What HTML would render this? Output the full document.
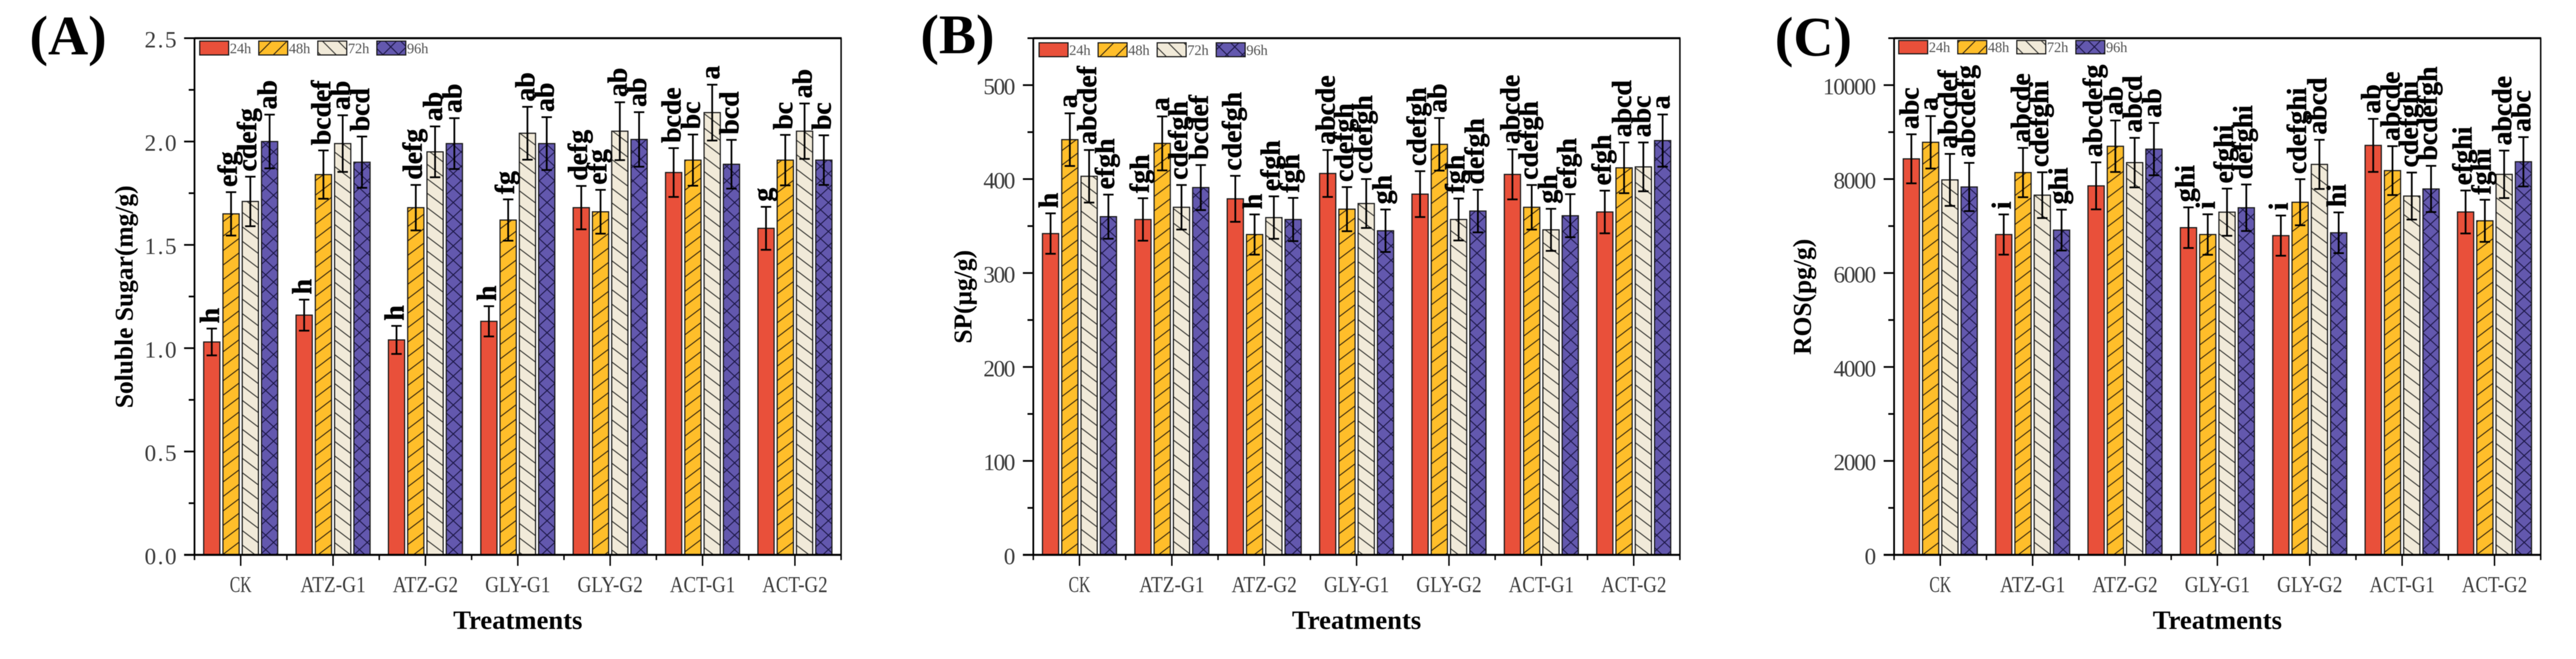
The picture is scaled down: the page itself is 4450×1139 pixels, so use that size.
<!DOCTYPE html>
<html lang="en">
<head>
<meta charset="utf-8">
<title>Soluble sugar, SP and ROS by treatment</title>
<style>
html,body{margin:0;padding:0;background:#fff;width:4450px;height:1139px;overflow:hidden}
svg{display:block;filter:blur(0.6px)}
text{font-family:"Liberation Serif","Noto Serif CJK SC",serif}
</style>
</head>
<body>
<svg id="figure" xmlns="http://www.w3.org/2000/svg" width="4450" height="1139" viewBox="0 0 4450 1139">
<defs>
<pattern id="h48" patternUnits="userSpaceOnUse" width="33" height="25"><path d="M-3.3 27.5L36.3 -2.5M-3.3 2.5L3.3 -2.5M29.7 27.5L36.3 22.5" stroke="#3a2a10" stroke-width="1.7" fill="none"/></pattern>
<pattern id="h72" patternUnits="userSpaceOnUse" width="33" height="25"><path d="M-3.3 -2.5L36.3 27.5M-3.3 22.5L3.3 27.5M29.7 -2.5L36.3 2.5" stroke="#3a3a36" stroke-width="1.7" fill="none"/></pattern>
<pattern id="h96" patternUnits="userSpaceOnUse" width="27" height="25"><path d="M0 0L27 25M0 25L27 0" stroke="#1d1848" stroke-width="1.7" fill="none"/></pattern>
<pattern id="l48" patternUnits="userSpaceOnUse" width="27" height="27"><path d="M-3 30L30 -3M-3 3L3 -3M24 30L30 24" stroke="#3a2a10" stroke-width="1.7" fill="none"/></pattern>
<pattern id="l72" patternUnits="userSpaceOnUse" width="27" height="27"><path d="M-3 -3L30 30M-3 24L3 30M24 -3L30 3" stroke="#3a3a36" stroke-width="1.7" fill="none"/></pattern>
<pattern id="l96" patternUnits="userSpaceOnUse" width="27" height="27"><path d="M0 0L27 27M0 27L27 0" stroke="#1d1848" stroke-width="1.7" fill="none"/></pattern>
</defs>
<rect x="0" y="0" width="4450" height="1139" fill="#fff"/>
</svg>
<script>
const categories = ['CK','ATZ-G1','ATZ-G2','GLY-G1','GLY-G2','ACT-G1','ACT-G2'];
const seriesNames = ['24h','48h','72h','96h'];

const sugarTicks = ['0.0','0.5','1.0','1.5','2.0','2.5'];
const sugar24h = [1.03,1.16,1.04,1.13,1.68,1.85,1.58];
const sugar48h = [1.65,1.84,1.68,1.62,1.66,1.91,1.91];
const sugar72h = [1.71,1.99,1.95,2.04,2.05,2.14,2.05];
const sugar96h = [2.00,1.90,1.99,1.99,2.01,1.89,1.91];
const sugarErr24h = [0.065,0.075,0.068,0.073,0.105,0.118,0.104];
const sugarErr48h = [0.105,0.117,0.110,0.100,0.106,0.124,0.122];
const sugarErr72h = [0.120,0.137,0.123,0.128,0.140,0.135,0.134];
const sugarErr96h = [0.130,0.124,0.123,0.128,0.132,0.118,0.120];
const sugarLetters24h = ['h','h','h','h','defg','bcde','g'];
const sugarLetters48h = ['efg','bcdef','defg','fg','efg','bc','bc'];
const sugarLetters72h = ['cdefg','ab','ab','ab','ab','a','ab'];
const sugarLetters96h = ['ab','bcd','ab','ab','ab','bcd','bc'];

const spTicks = ['0','100','200','300','400','500'];
const sp24h = [342,357,379,406,384,405,365];
const sp48h = [442,438,341,368,437,370,412];
const sp72h = [403,370,359,374,357,346,413];
const sp96h = [360,391,357,345,366,361,441];
const spErr24h = [21.5,22.6,24.5,25,24.4,26.6,22.7];
const spErr48h = [28,28.7,21.4,23.5,28,23.7,27];
const spErr72h = [28,23.7,22.6,26,22.3,22.4,26];
const spErr96h = [23.5,24,23,22.6,22.7,22.9,27.8];
const spLetters24h = ['h','fgh','cdefgh','abcde','cdefgh','abcde','efgh'];
const spLetters48h = ['a','a','h','cdefgh','ab','cdefgh','abcd'];
const spLetters72h = ['abcdef','cdefgh','efgh','cdefgh','fgh','gh','abc'];
const spLetters96h = ['efgh','bcdef','fgh','gh','defgh','efgh','a'];

const rosTicks = ['0','2000','4000','6000','8000','10000'];
const ros24h = [8431,6820,7856,6966,6796,8718,7300];
const ros48h = [8784,8139,8699,6820,7507,8181,7112];
const ros72h = [7983,7658,8351,7296,8313,7639,8101];
const ros96h = [7832,6914,8638,7390,6857,7790,8369];
const rosErr24h = [522,428,500,433,428,565,457];
const rosErr48h = [558,525,548,431,490,520,448];
const rosErr72h = [553,487,527,502,523,500,506];
const rosErr96h = [513,435,558,495,433,492,525];
const rosLetters24h = ['abc','i','abcdefg','ghi','i','ab','efghi'];
const rosLetters48h = ['a','abcde','ab','i','cdefghi','abcde','fghi'];
const rosLetters72h = ['abcdef','cdefghi','abcd','efghi','abcd','cdefghi','abcde'];
const rosLetters96h = ['abcdefg','ghi','ab','defghi','hi','bcdefgh','abc'];

const NS = 'http://www.w3.org/2000/svg';
const fig = document.getElementById('figure');
const fills = ['#E9503A','#FFBE2A','#F1EAD9','#6358AE'];
const barHatch = [null,'url(#h48)','url(#h72)','url(#h96)'];
const legendHatch = [null,'url(#l48)','url(#l72)','url(#l96)'];
const PLOT_TOP = 66, PLOT_BOTTOM = 959, PLOT_WIDTH = 1117;

function mk(tag, attrs, parent, txt) {
  const el = document.createElementNS(NS, tag);
  for (const k in attrs) el.setAttribute(k, attrs[k]);
  if (txt !== undefined) el.textContent = txt;
  parent.appendChild(el);
  return el;
}

function drawPanel(p) {
  const g = mk('g', {}, fig);
  
  
  const yScale = v => PLOT_BOTTOM - v / p.yMax * (PLOT_BOTTOM - PLOT_TOP);
  const step = PLOT_WIDTH / categories.length;
  const xCenter = i => p.left + step * (i + 0.5);
  const barStep = 33.3, barW = 28;
  const xBar = (i, s) => xCenter(i) + (s - 1.5) * barStep;

  p.values.forEach((vals, s) => {
    vals.forEach((v, i) => {
      const cx = xBar(i, s), top = yScale(v);
      const attrs = {x: cx - barW / 2, y: top, width: barW, height: PLOT_BOTTOM - top, fill: fills[s], stroke: 'none'};
      const bar = mk('rect', attrs, g);
      
      
      if (barHatch[s]) {
        const hatch = mk('rect', {x: cx - barW / 2, y: top, width: barW, height: PLOT_BOTTOM - top, fill: barHatch[s]}, g);
        
        
      }
      const outline = mk('rect', {x: cx - barW / 2, y: top, width: barW, height: PLOT_BOTTOM - top, fill: 'none', stroke: '#1a1a1a', 'stroke-width': 2}, g);
      
      
    });
  });

  p.values.forEach((vals, s) => {
    vals.forEach((v, i) => {
      const cx = xBar(i, s), e = p.errors[s][i];
      const yt = yScale(v + e), yb = yScale(v - e);
      const err = mk('path', {d: `M${cx - 9} ${yt}H${cx + 9}M${cx} ${yt}V${yb}M${cx - 9} ${yb}H${cx + 9}`, stroke: '#000', 'stroke-width': 3, fill: 'none'}, g);
      
      
      const word = p.letters[s][i];
      const tx = cx + (word.indexOf('g') >= 0 ? 10 : 12), ty = yt - 9;
      const lab = mk('text', {x: tx, y: ty, transform: `rotate(-90 ${tx} ${ty})`, 'font-size': 48, 'font-weight': 700, fill: '#000', stroke: '#000', 'stroke-width': 0.7}, g, word);
      
      
    });
  });

  // y axis ticks
  const tickVals = p.ticks.map(parseFloat);
  const tickStep = tickVals[1] - tickVals[0];
  for (let v = tickVals[0] + tickStep / 2; v <= p.yMax + tickStep / 100; v += tickStep) {
    const minor = mk('line', {x1: p.left - 10, x2: p.left, y1: yScale(v), y2: yScale(v), stroke: '#000', 'stroke-width': 3}, g);
    
    
  }
  p.ticks.forEach(t => {
    const v = parseFloat(t), y = yScale(v);
    const tick = mk('line', {x1: p.left - 18, x2: p.left, y1: y, y2: y, stroke: '#000', 'stroke-width': 3}, g);
    
    
    const lab = mk('text', {x: p.left - 31, y: y + 16, 'text-anchor': 'end', 'font-size': 40, fill: '#3a3a3a', textLength: t.length * 18.4, lengthAdjust: 'spacing'}, g, t);
    
    
  });

  // x axis ticks
  categories.forEach((c, i) => {
    const cx = xCenter(i);
    const tick = mk('line', {x1: cx, x2: cx, y1: PLOT_BOTTOM, y2: PLOT_BOTTOM + 19, stroke: '#000', 'stroke-width': 2.5}, g);
    
    
    const lab = mk('text', {x: cx, y: 1023, 'text-anchor': 'middle', 'font-size': 39, fill: '#3a3a3a', textLength: c.length * 18.8, lengthAdjust: 'spacingAndGlyphs'}, g, c);
    
    
  });
  for (let i = 0; i <= categories.length; i++) {
    const x = p.left + step * i;
    const minor = mk('line', {x1: x, x2: x, y1: PLOT_BOTTOM, y2: PLOT_BOTTOM + 9, stroke: '#000', 'stroke-width': 2.5}, g);
    
    
  }

  // frame
  const frameTop = mk('line', {x1: p.left, x2: p.left + PLOT_WIDTH + 1, y1: PLOT_TOP, y2: PLOT_TOP, stroke: '#000', 'stroke-width': 3.5}, g);
  
  
  const frameRight = mk('line', {x1: p.left + PLOT_WIDTH, x2: p.left + PLOT_WIDTH, y1: PLOT_TOP, y2: PLOT_BOTTOM, stroke: '#000', 'stroke-width': 2.5}, g);
  
  
  const axisY = mk('line', {x1: p.left, x2: p.left, y1: PLOT_TOP, y2: PLOT_BOTTOM, stroke: '#000', 'stroke-width': 3}, g);
  
  
  const axisX = mk('line', {x1: p.left - 18, x2: p.left + PLOT_WIDTH, y1: PLOT_BOTTOM, y2: PLOT_BOTTOM, stroke: '#000', 'stroke-width': 3.5}, g);
  
  

  // axis titles
  const yt = mk('text', {x: p.yTitleX, y: 513, transform: `rotate(-90 ${p.yTitleX} 513)`, 'text-anchor': 'middle', 'font-size': 44, 'font-weight': 700, fill: '#000'}, g, p.yTitle);
  
  
  const xt = mk('text', {x: p.left + PLOT_WIDTH / 2, y: 1087, 'text-anchor': 'middle', 'font-size': 46, 'font-weight': 700, fill: '#000'}, g, 'Treatments');
  
  

  // panel letter
  const pl = mk('text', {x: p.tagX, y: p.tagY, 'font-size': 96, 'font-weight': 700, fill: '#000'}, g, p.tag);
  
  

  // legend
  seriesNames.forEach((n, s) => {
    const lx = p.legendX + s * 102, ly = p.legendY;
    const sw = mk('rect', {x: lx, y: ly, width: 50, height: p.legendH, fill: fills[s], stroke: '#1a1a1a', 'stroke-width': 2}, g);
    
    
    if (legendHatch[s]) {
      const lh = mk('rect', {x: lx, y: ly, width: 50, height: p.legendH, fill: legendHatch[s], stroke: '#1a1a1a', 'stroke-width': 2}, g);
      
      
    }
    const lt = mk('text', {x: lx + 52, y: ly + p.legendH - 3, 'font-size': 25, fill: '#555', textLength: 37, lengthAdjust: 'spacing'}, g, n);
    
    
  });
}

drawPanel({key: 'soluble-sugar', left: 336, yMax: 2.5, ticks: sugarTicks,
  values: [sugar24h, sugar48h, sugar72h, sugar96h],
  errors: [sugarErr24h, sugarErr48h, sugarErr72h, sugarErr96h],
  letters: [sugarLetters24h, sugarLetters48h, sugarLetters72h, sugarLetters96h],
  yTitle: 'Soluble Sugar(mg/g)', yTitleX: 229, tag: '(A)', tagX: 51, tagY: 94,
  legendX: 345, legendY: 71, legendH: 24});
drawPanel({key: 'sp', left: 1785, yMax: 550, ticks: spTicks,
  values: [sp24h, sp48h, sp72h, sp96h],
  errors: [spErr24h, spErr48h, spErr72h, spErr96h],
  letters: [spLetters24h, spLetters48h, spLetters72h, spLetters96h],
  yTitle: 'SP(μg/g)', yTitleX: 1678, tag: '(B)', tagX: 1590, tagY: 92,
  legendX: 1795, legendY: 74, legendH: 24});
drawPanel({key: 'ros', left: 3272, yMax: 11000, ticks: rosTicks,
  values: [ros24h, ros48h, ros72h, ros96h],
  errors: [rosErr24h, rosErr48h, rosErr72h, rosErr96h],
  letters: [rosLetters24h, rosLetters48h, rosLetters72h, rosLetters96h],
  yTitle: 'ROS(pg/g)', yTitleX: 3128, tag: '(C)', tagX: 3066, tagY: 96,
  legendX: 3280, legendY: 70, legendH: 23});
</script>
</body>
</html>
